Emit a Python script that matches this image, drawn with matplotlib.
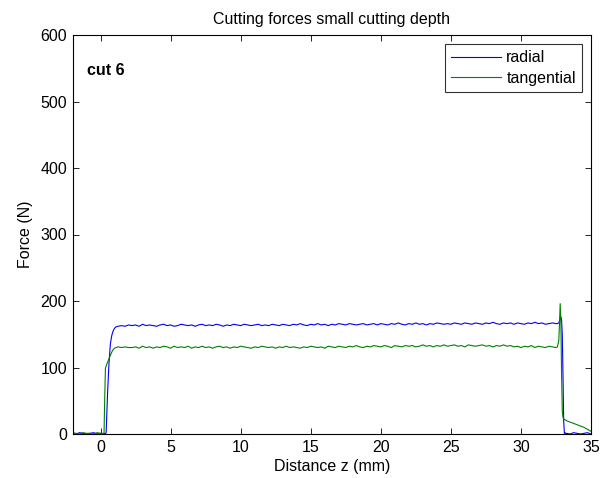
import numpy as np
import matplotlib
matplotlib.use("Agg")
import matplotlib.pyplot as plt

plt.rcParams['font.family'] = ['Liberation Sans', 'DejaVu Sans']

# ---- data ----
z_pre = [-2.0, -1.75, -1.5, -1.25, -1.0, -0.75, -0.5, -0.25, 0.0, 0.25]
radial_pre = [1, 0, 2, 1, 0, 1, 2, 0, 1, 0]
tang_pre = [2, 1, 0, 2, 1, 1, 0, 2, 1, 1]

z_ramp = [0.3, 0.35, 0.4, 0.45, 0.5, 0.6, 0.7, 0.8, 0.9, 1.0, 1.1, 1.25, 1.5, 1.75, 2.0]
radial_ramp = [1, 0, 2, 30, 60, 105, 135, 148, 155, 159, 161, 162, 163, 162, 164]
tang_ramp = [55, 99, 102, 105, 108, 113, 118, 123, 127, 129, 130, 131, 130, 131, 130]

z_plat = np.arange(2.25, 32.51, 0.25)
radial_plat = [
    163, 164, 162, 165, 163, 164, 163, 162, 164, 165,
    163, 164, 162, 163, 165, 164, 163, 164, 162, 164,
    165, 163, 164, 163, 165, 164, 162, 164, 163, 165,
    164, 163, 165, 164, 163, 164, 165, 163, 164, 163,
    165, 164, 163, 165, 164, 163, 165, 164, 166, 164,
    163, 165, 164, 166, 164, 165, 163, 165, 164, 166,
    165, 164, 166, 165, 164, 165, 166, 164, 165, 166,
    164, 166, 165, 164, 166, 165, 167, 165, 164, 166,
    165, 167, 165, 166, 164, 166, 165, 167, 166, 165,
    166, 165, 167, 166, 165, 167, 166, 165, 167, 166,
    165, 167, 166, 168, 166, 165, 167, 166, 167, 165,
    167, 166, 165, 167, 166, 168, 166, 167, 165, 166,
    167, 166]
tang_plat = [
    130, 131, 129, 132, 130, 131, 129, 131, 130, 132,
    131, 129, 132, 130, 131, 130, 132, 129, 131, 130,
    132, 130, 131, 129, 131, 132, 130, 131, 129, 131,
    130, 132, 131, 130, 129, 131, 130, 132, 131, 130,
    131, 129, 131, 130, 132, 130, 131, 130, 129, 131,
    130, 132, 131, 130, 131, 129, 132, 131, 130, 132,
    131, 130, 132, 131, 133, 131, 130, 132, 131, 133,
    132, 131, 133, 132, 130, 133, 132, 131, 133, 132,
    133, 131, 132, 134, 132, 133, 131, 133, 132, 134,
    132, 133, 134, 132, 133, 131, 134, 133, 132, 133,
    134, 132, 133, 131, 133, 132, 134, 132, 133, 131,
    132, 130, 132, 131, 133, 130, 132, 131, 130, 132,
    131, 130]

z_end = [32.6, 32.7, 32.75, 32.8, 32.85, 32.9, 32.95, 33.0, 33.05, 33.1, 33.15, 33.2]
radial_end = [166, 167, 170, 174, 176, 172, 150, 90, 20, 1, 2, 0]
tang_end = [131, 140, 165, 196, 170, 90, 35, 25, 23, 22, 21, 21]

z_post = [33.25, 33.5, 33.75, 34.0, 34.25, 34.5, 34.75, 35.0]
radial_post = [1, 0, 2, 1, 0, 1, 2, 0]
tang_post = [20, 18, 16, 14, 12, 10, 7, 4]

z = np.concatenate([z_pre, z_ramp, z_plat, z_end, z_post])
radial = np.concatenate([radial_pre, radial_ramp, radial_plat, radial_end, radial_post])
tangential = np.concatenate([tang_pre, tang_ramp, tang_plat, tang_end, tang_post])

xticks = [0, 5, 10, 15, 20, 25, 30, 35]
yticks = [0, 100, 200, 300, 400, 500, 600]

FS = 11.5

# ---- figure ----
fig = plt.figure(figsize=(6.08, 4.78), dpi=100)
ax = fig.add_axes([72.5 / 608, 44 / 478, (591 - 72.5) / 608, (434 - 35) / 478])

ax.plot(z, radial, color=(0, 0, 1), lw=0.8, label='radial')
ax.plot(z, tangential, color=(0, 0.5, 0), lw=0.8, label='tangential')

ax.set_xlim(-2, 35)
ax.set_ylim(0, 600)
ax.set_xticks(xticks)
ax.set_yticks(yticks)
ax.tick_params(direction='in', top=True, right=True, length=4, width=0.6,
               labelsize=FS, pad=4)
for s in ax.spines.values():
    s.set_linewidth(0.8)

ax.set_xlabel('Distance z (mm)', fontsize=FS, labelpad=3)
ax.set_ylabel('Force (N)', fontsize=FS, labelpad=5)
ax.set_title('Cutting forces small cutting depth', fontsize=FS, pad=8)
ax.text(0.028, 0.912, 'cut 6', transform=ax.transAxes, fontsize=FS,
        fontweight='bold', ha='left', va='center')

leg = ax.legend(loc='upper right', fontsize=FS, frameon=True, fancybox=False,
                edgecolor='black', borderaxespad=0.55, handlelength=3.1,
                handletextpad=0.35, borderpad=0.4, labelspacing=0.35)
leg.get_frame().set_linewidth(0.8)

fig.savefig('out.png', dpi=100)
